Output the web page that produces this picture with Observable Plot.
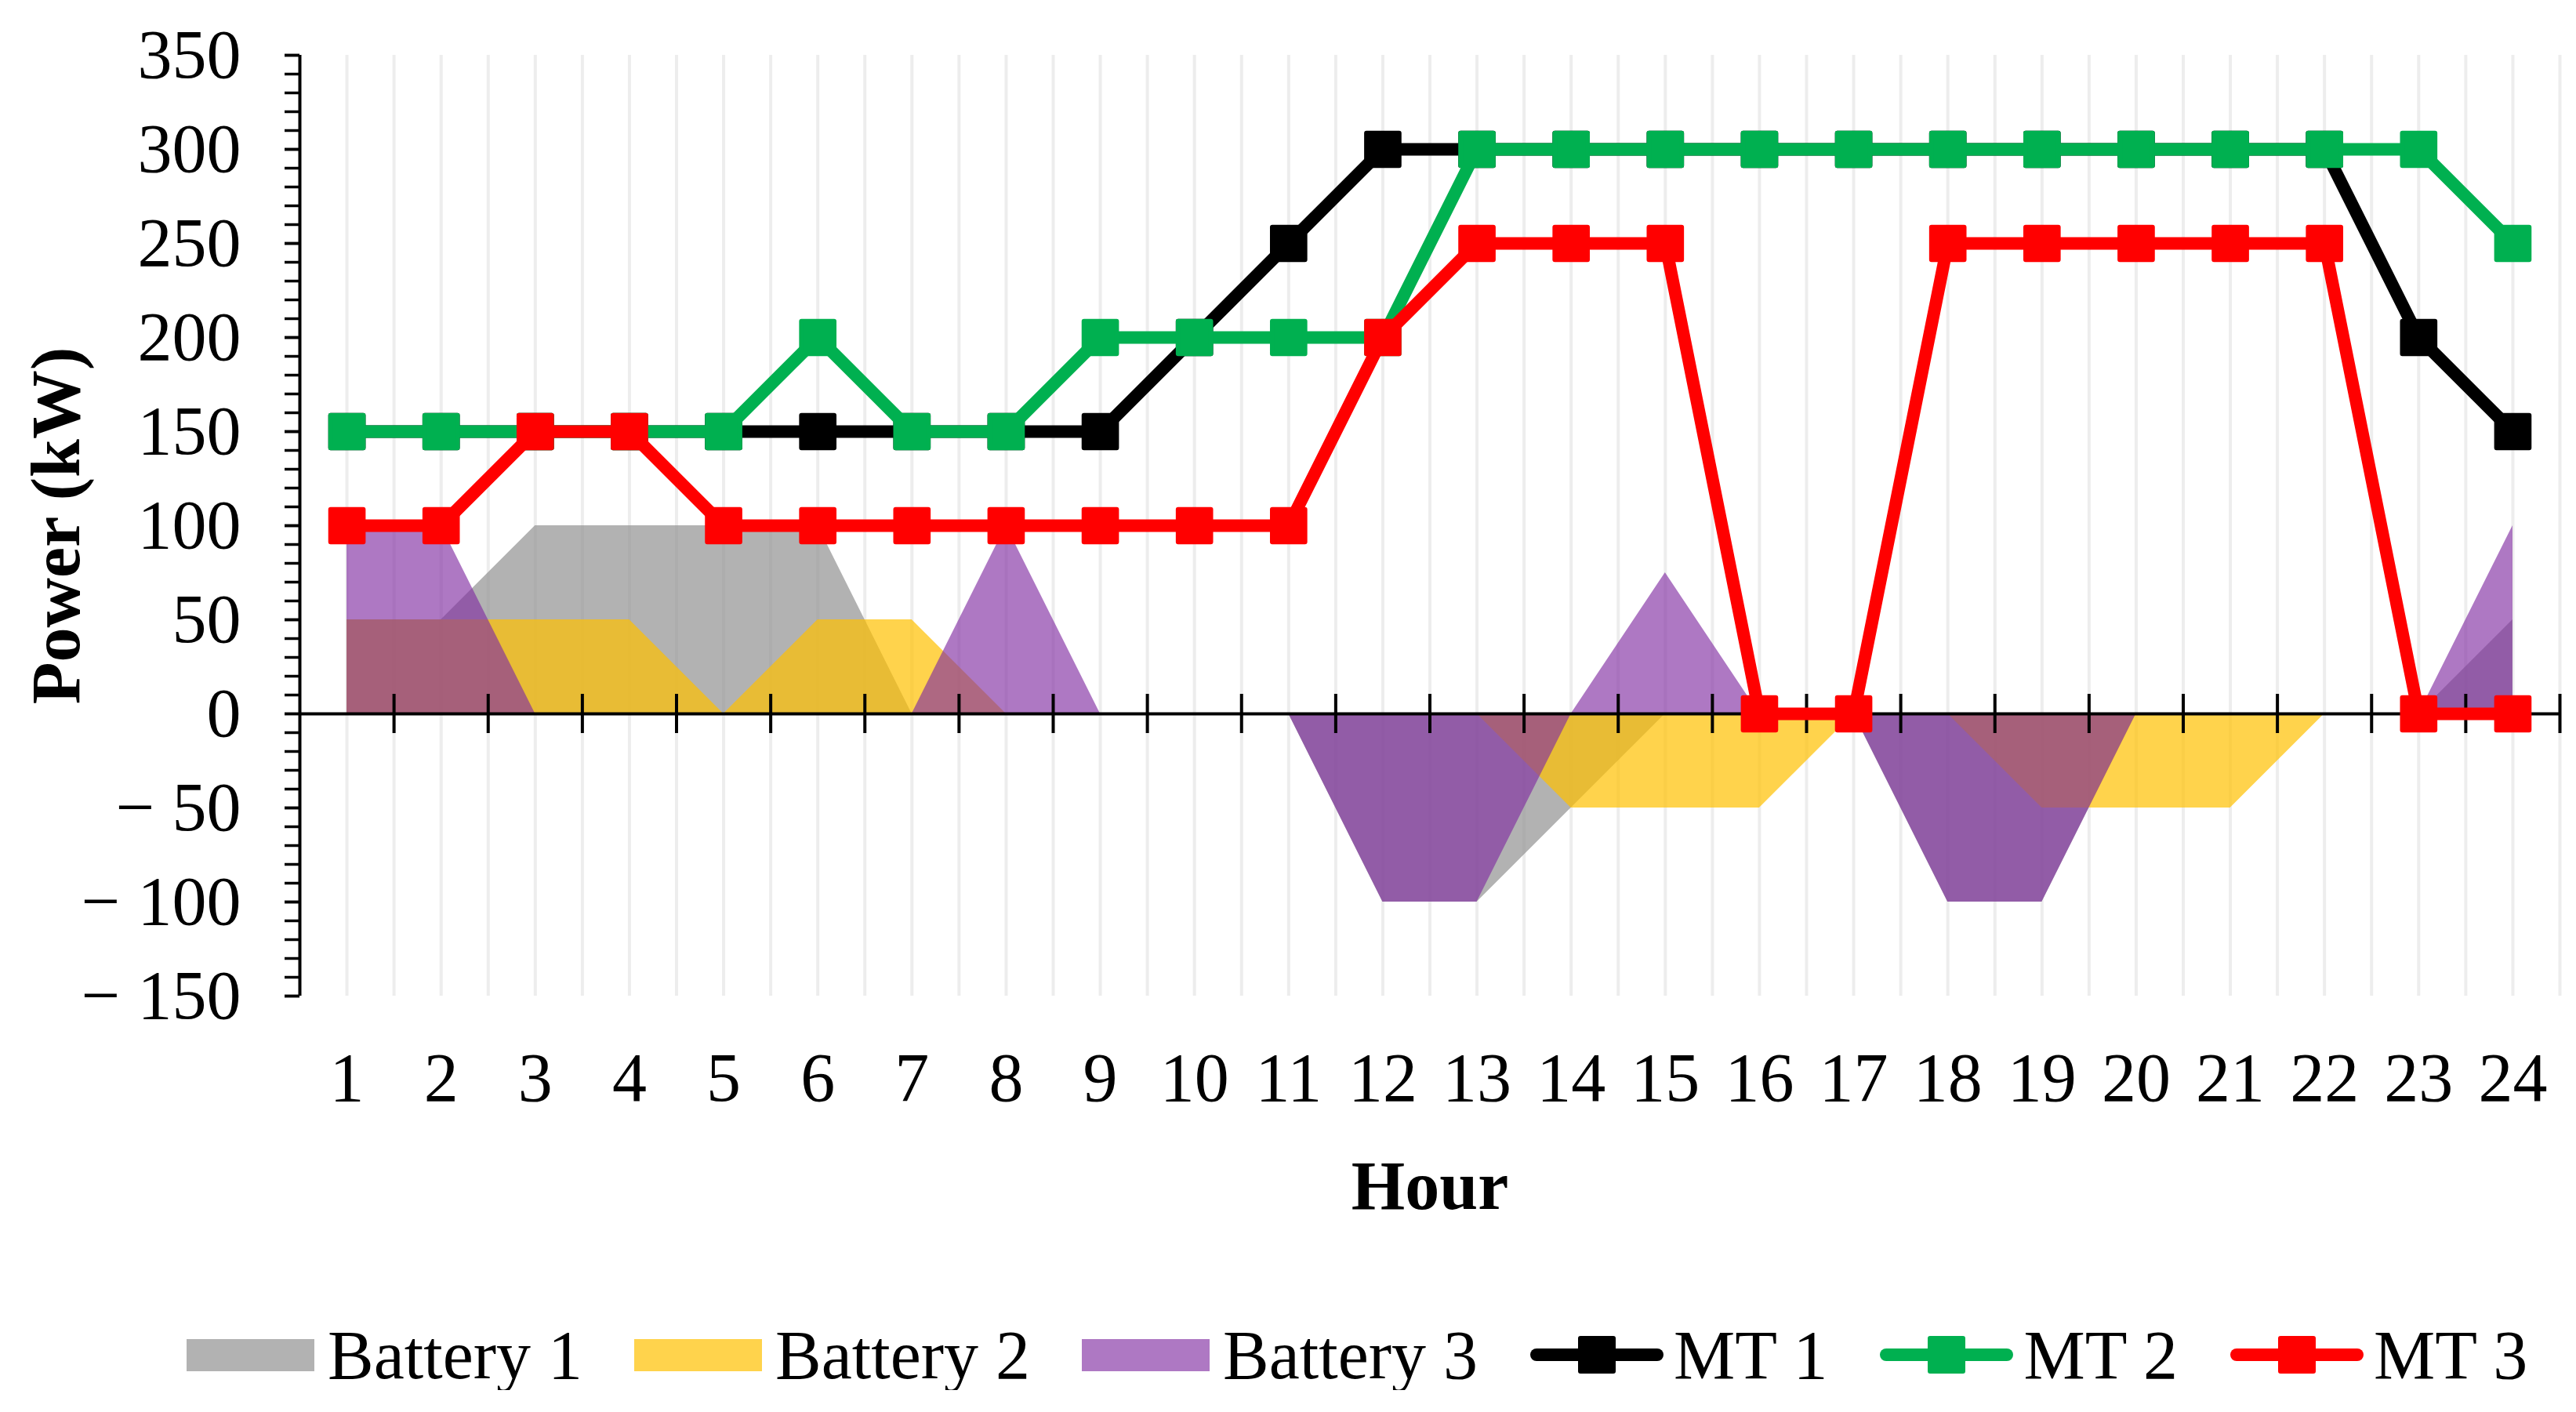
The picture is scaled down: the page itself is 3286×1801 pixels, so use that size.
<!DOCTYPE html>
<html>
<head>
<meta charset="utf-8">
<script src="https://cdn.jsdelivr.net/npm/d3@7"></script>
<script src="https://cdn.jsdelivr.net/npm/@observablehq/plot@0.6"></script>
<style>
  html, body { margin: 0; padding: 0; background: #fff; }
  #chart svg { display: block; }
  #legend {
    display: flex; align-items: center; height: 90px; margin-top: 23px;
    padding-left: 238px; font-family: "Liberation Serif", "Times New Roman", serif;
    font-size: 88px; color: #000; white-space: nowrap;
  }
  .item { display: flex; align-items: center; margin-right: 66px; }
  .item svg { display: block; margin-right: 17px; }
</style>
</head>
<body>
<div id="chart"></div>
<div id="legend"></div>
<script>
// ---- data ----
const hours = [1,2,3,4,5,6,7,8,9,10,11,12,13,14,15,16,17,18,19,20,21,22,23,24];
const battery1 = [50,50,100,100,100,100,0,0,0,0,0,-100,-100,-50,0,0,0,-100,-100,0,0,0,0,50];
const battery2 = [50,50,50,50,0,50,50,0,0,0,0,0,0,-50,-50,-50,0,0,-50,-50,-50,0,0,0];
const battery3 = [100,100,0,0,0,0,0,100,0,0,0,-100,-100,0,75,0,0,-100,-100,0,0,0,0,100];
const mt1 = [150,150,150,150,150,150,150,150,150,200,250,300,300,300,300,300,300,300,300,300,300,300,200,150];
const mt2 = [150,150,150,150,150,200,150,150,200,200,200,200,300,300,300,300,300,300,300,300,300,300,300,250];
const mt3 = [100,100,150,150,100,100,100,100,100,100,100,200,250,250,250,0,0,250,250,250,250,250,0,0];
const yMajorTicks = [-150,-100,-50,0,50,100,150,200,250,300,350];
const seriesNames = ["Battery 1","Battery 2","Battery 3","MT 1","MT 2","MT 3"];

const areaColors = {"Battery 1": "#929292", "Battery 2": "#ffc000", "Battery 3": "#802ca1"};
const areaOpacity = {"Battery 1": 0.7, "Battery 2": 0.7, "Battery 3": 0.64};
const lineColors = {"MT 1": "#000000", "MT 2": "#00b050", "MT 3": "#ff0000"};

const table = hours.map((h, i) => ({
  hour: h, b1: battery1[i], b2: battery2[i], b3: battery3[i],
  m1: mt1[i], m2: mt2[i], m3: mt3[i]
}));

const yMinorTicks = d3.range(-150, 351, 10);
const gridX = d3.range(1, 24.51, 0.5);
const xBoundaryTicks = d3.range(1.5, 24.51, 1);
const fmt = d => d < 0 ? "\u2212 " + Math.abs(d) : String(d);

const FONT = "Liberation Serif, Times New Roman, serif";

function lineMarks(key, name) {
  const c = lineColors[name];
  return [
    Plot.line(table, {x: "hour", y: key, stroke: c, strokeWidth: 16,
      strokeLinejoin: "round", strokeLinecap: "round"}),
    Plot.dot(table, {x: "hour", y: key, symbol: "square", r: 23.5, fill: c,
      stroke: c, strokeWidth: 6, strokeLinejoin: "round"})
  ];
}

const chart = Plot.plot({
  width: 3286,
  height: 1660,
  marginLeft: 382,
  marginRight: 21,
  marginTop: 70,
  marginBottom: 390,
  style: {fontFamily: FONT, fontSize: "88px", background: "#fff", color: "#000"},
  x: {domain: [0.5, 24.5], label: null},
  y: {domain: [-150, 350], label: null},
  marks: [
    Plot.ruleX(gridX, {stroke: "#ededed", strokeWidth: 4}),
    Plot.areaY(table, {x: "hour", y1: 0, y2: "b1", fill: areaColors["Battery 1"], fillOpacity: areaOpacity["Battery 1"], curve: "linear"}),
    Plot.areaY(table, {x: "hour", y1: 0, y2: "b2", fill: areaColors["Battery 2"], fillOpacity: areaOpacity["Battery 2"], curve: "linear"}),
    Plot.areaY(table, {x: "hour", y1: 0, y2: "b3", fill: areaColors["Battery 3"], fillOpacity: areaOpacity["Battery 3"], curve: "linear"}),
    Plot.ruleY([0], {stroke: "#000", strokeWidth: 4}),
    Plot.ruleX(xBoundaryTicks, {y1: 0, y2: 0, insetTop: -25, insetBottom: -25, stroke: "#000", strokeWidth: 4}),
    Plot.ruleX([0.5], {stroke: "#000", strokeWidth: 4}),
    Plot.axisY(yMinorTicks, {anchor: "left", tickSize: 19, tickFormat: () => "", strokeWidth: 3.5, label: null}),
    Plot.axisY(yMajorTicks, {anchor: "left", tickSize: 19, tickPadding: 56, tickFormat: fmt, strokeWidth: 3.5, fontSize: 88, label: null}),
    Plot.axisX(hours, {anchor: "bottom", tickSize: 0, tickPadding: 71, tickFormat: d => String(d), fontSize: 88, label: null}),
    ...lineMarks("m1", "MT 1"),
    ...lineMarks("m2", "MT 2"),
    ...lineMarks("m3", "MT 3"),
    Plot.text(["Power (kW)"], {frameAnchor: "left", rotate: -90, dx: -310, textAnchor: "middle", lineAnchor: "middle", fontWeight: "bold", fontSize: 88, fill: "#000"}),
    Plot.text(["Hour"], {frameAnchor: "bottom", dy: 243, textAnchor: "middle", lineAnchor: "middle", fontWeight: "bold", fontSize: 88, fill: "#000"})
  ]
});
document.getElementById("chart").appendChild(chart);

// ---- legend ----
const legend = document.getElementById("legend");
const ns = "http://www.w3.org/2000/svg";
seriesNames.forEach(name => {
  const item = document.createElement("div");
  item.className = "item";
  const s = document.createElementNS(ns, "svg");
  if (areaColors[name]) {
    s.setAttribute("width", 163); s.setAttribute("height", 41);
    const r = document.createElementNS(ns, "rect");
    r.setAttribute("width", 163); r.setAttribute("height", 41);
    r.setAttribute("fill", areaColors[name]);
    r.setAttribute("fill-opacity", areaOpacity[name]);
    s.appendChild(r);
  } else {
    s.setAttribute("width", 172); s.setAttribute("height", 50);
    s.style.marginRight = "12px";
    const l = document.createElementNS(ns, "line");
    l.setAttribute("x1", 9); l.setAttribute("x2", 163);
    l.setAttribute("y1", 25); l.setAttribute("y2", 25);
    l.setAttribute("stroke", lineColors[name]); l.setAttribute("stroke-width", 16);
    l.setAttribute("stroke-linecap", "round");
    s.appendChild(l);
    const m = document.createElementNS(ns, "rect");
    m.setAttribute("x", 65); m.setAttribute("y", 4);
    m.setAttribute("width", 42); m.setAttribute("height", 42);
    m.setAttribute("fill", lineColors[name]); m.setAttribute("stroke", lineColors[name]);
    m.setAttribute("stroke-width", 6); m.setAttribute("stroke-linejoin", "round");
    s.appendChild(m);
  }
  item.appendChild(s);
  const t = document.createElement("span");
  t.textContent = name;
  item.appendChild(t);
  legend.appendChild(item);
});
</script>
</body>
</html>
